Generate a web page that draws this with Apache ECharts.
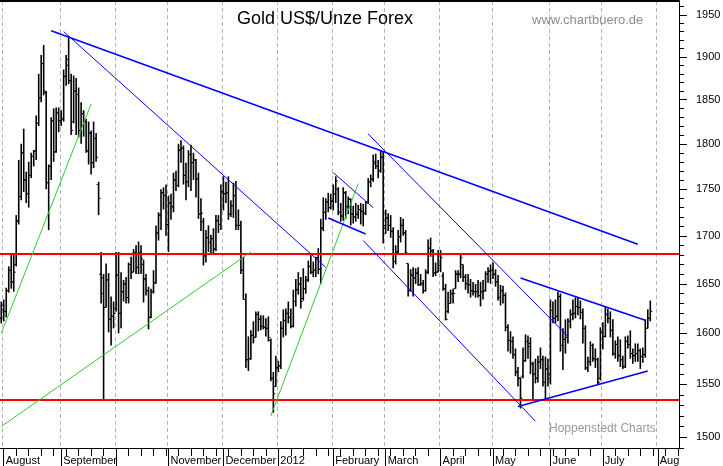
<!DOCTYPE html>
<html>
<head>
<meta charset="utf-8">
<title>Gold US$/Unze Forex</title>
<script src="https://cdn.jsdelivr.net/npm/echarts@6.0.0/dist/echarts.min.js"></script>
<style>
  html, body { margin: 0; padding: 0; background: #fff; }
  #chart { width: 723px; height: 466px; }
</style>
</head>
<body>
<div id="chart"></div>
<script>
// daily bars, [open, high, low, close], one array per month
const jul11 = [[1615, 1632, 1610, 1628]];
const aug11 = [
  [1624, 1634, 1612, 1622], [1622, 1646, 1616, 1643], [1643, 1668, 1641, 1664], [1664, 1682, 1645, 1652],
  [1652, 1681, 1642, 1662], [1670, 1722, 1668, 1715], [1716, 1782, 1712, 1742], [1742, 1800, 1738, 1790],
  [1790, 1817, 1747, 1760], [1760, 1769, 1735, 1745], [1745, 1780, 1730, 1765], [1765, 1790, 1762, 1786],
  [1786, 1793, 1775, 1792], [1792, 1832, 1782, 1823], [1823, 1880, 1820, 1852], [1852, 1902, 1847, 1892],
  [1892, 1914, 1855, 1860], [1858, 1860, 1750, 1757], [1757, 1777, 1706, 1775], [1775, 1830, 1760, 1826],
  [1826, 1840, 1780, 1791], [1791, 1841, 1790, 1835], [1835, 1841, 1813, 1826]
];
const sep11 = [
  [1826, 1838, 1820, 1828], [1828, 1885, 1825, 1877], [1877, 1902, 1866, 1897], [1890, 1924, 1868, 1872],
  [1872, 1880, 1810, 1815], [1825, 1878, 1823, 1860], [1860, 1875, 1810, 1856], [1856, 1864, 1807, 1815],
  [1815, 1847, 1800, 1834], [1834, 1838, 1808, 1825], [1825, 1828, 1790, 1792], [1792, 1825, 1777, 1812],
  [1812, 1815, 1766, 1779], [1779, 1825, 1773, 1806], [1806, 1812, 1780, 1785], [1755, 1758, 1722, 1740],
  [1660, 1683, 1630, 1656], [1640, 1660, 1535, 1626], [1626, 1671, 1626, 1654], [1654, 1661, 1601, 1614],
  [1614, 1637, 1588, 1617], [1617, 1632, 1605, 1620]
];
const oct11 = [
  [1625, 1683, 1622, 1659], [1659, 1683, 1600, 1620], [1620, 1662, 1605, 1642], [1642, 1654, 1632, 1650],
  [1650, 1657, 1630, 1636], [1636, 1672, 1630, 1670], [1670, 1678, 1655, 1662], [1662, 1686, 1662, 1682],
  [1682, 1690, 1660, 1667], [1667, 1694, 1660, 1682], [1682, 1690, 1660, 1676], [1670, 1675, 1631, 1655],
  [1655, 1660, 1638, 1643], [1643, 1647, 1604, 1616], [1616, 1645, 1615, 1642], [1642, 1664, 1640, 1651],
  [1651, 1711, 1650, 1703], [1703, 1725, 1695, 1722], [1722, 1750, 1706, 1746], [1746, 1752, 1728, 1743],
  [1743, 1755, 1700, 1712]
];
const nov11 = [
  [1712, 1743, 1683, 1735], [1735, 1745, 1717, 1731], [1731, 1768, 1725, 1760], [1760, 1770, 1748, 1754],
  [1754, 1800, 1752, 1793], [1793, 1804, 1779, 1795], [1795, 1798, 1755, 1765], [1765, 1779, 1738, 1758],
  [1758, 1793, 1752, 1788], [1788, 1799, 1748, 1779], [1779, 1790, 1760, 1782], [1782, 1783, 1741, 1761],
  [1761, 1768, 1718, 1723], [1723, 1740, 1705, 1724], [1715, 1719, 1669, 1679], [1679, 1706, 1672, 1698],
  [1698, 1711, 1683, 1693], [1693, 1701, 1682, 1697], [1697, 1708, 1680, 1686], [1686, 1722, 1684, 1716],
  [1716, 1722, 1703, 1712], [1712, 1755, 1706, 1747]
];
const dec11 = [
  [1747, 1764, 1727, 1745], [1745, 1758, 1735, 1746], [1746, 1764, 1717, 1723], [1723, 1738, 1720, 1732],
  [1732, 1757, 1719, 1743], [1743, 1759, 1706, 1711], [1711, 1728, 1706, 1711], [1711, 1716, 1660, 1664],
  [1664, 1678, 1634, 1634], [1634, 1640, 1566, 1574], [1574, 1597, 1563, 1575], [1575, 1603, 1574, 1598],
  [1598, 1612, 1590, 1596], [1596, 1622, 1596, 1619], [1619, 1622, 1602, 1614], [1614, 1618, 1603, 1607],
  [1607, 1618, 1604, 1606], [1606, 1615, 1597, 1605], [1605, 1617, 1592, 1596], [1593, 1595, 1553, 1556],
  [1556, 1562, 1523, 1541], [1548, 1578, 1548, 1566]
];
const jan12 = [
  [1566, 1573, 1562, 1568], [1568, 1612, 1565, 1605], [1605, 1624, 1596, 1613], [1613, 1625, 1598, 1620],
  [1620, 1632, 1610, 1616], [1616, 1625, 1605, 1607], [1607, 1644, 1606, 1632], [1632, 1655, 1627, 1644],
  [1644, 1662, 1639, 1650], [1650, 1657, 1625, 1632], [1635, 1666, 1633, 1645], [1645, 1658, 1640, 1654],
  [1654, 1674, 1652, 1668], [1668, 1681, 1660, 1662], [1662, 1673, 1657, 1664], [1664, 1678, 1657, 1677],
  [1677, 1687, 1660, 1665], [1665, 1718, 1650, 1708], [1708, 1741, 1705, 1725], [1725, 1740, 1717, 1736],
  [1736, 1746, 1725, 1730], [1730, 1745, 1728, 1737]
];
const feb12 = [
  [1737, 1755, 1727, 1745], [1745, 1764, 1735, 1759], [1750, 1752, 1722, 1725], [1725, 1735, 1715, 1721],
  [1721, 1752, 1716, 1746], [1746, 1748, 1718, 1731], [1731, 1742, 1723, 1739], [1739, 1740, 1711, 1723],
  [1723, 1732, 1713, 1720], [1720, 1735, 1715, 1723], [1723, 1733, 1718, 1728], [1728, 1735, 1712, 1726],
  [1726, 1734, 1710, 1724], [1724, 1737, 1722, 1736], [1736, 1762, 1734, 1758], [1758, 1766, 1752, 1761],
  [1761, 1788, 1758, 1778], [1780, 1789, 1772, 1775], [1775, 1782, 1762, 1770], [1770, 1793, 1768, 1785],
  [1785, 1791, 1692, 1711]
];
const mar12 = [
  [1708, 1728, 1702, 1719], [1719, 1724, 1705, 1711], [1711, 1722, 1698, 1705], [1705, 1709, 1666, 1673],
  [1673, 1690, 1670, 1683], [1683, 1706, 1680, 1699], [1699, 1720, 1693, 1711], [1711, 1718, 1700, 1703],
  [1703, 1706, 1680, 1682], [1671, 1671, 1637, 1643], [1643, 1665, 1642, 1659], [1659, 1667, 1637, 1656],
  [1656, 1666, 1650, 1661], [1661, 1667, 1648, 1649], [1649, 1660, 1648, 1650], [1650, 1654, 1640, 1643],
  [1643, 1665, 1642, 1662], [1662, 1696, 1660, 1687], [1687, 1698, 1678, 1684], [1684, 1686, 1657, 1661],
  [1661, 1672, 1658, 1662], [1662, 1685, 1662, 1669]
];
const apr12 = [
  [1669, 1685, 1662, 1677], [1658, 1662, 1643, 1645], [1645, 1650, 1613, 1614], [1622, 1642, 1620, 1630],
  [1630, 1644, 1630, 1640], [1640, 1645, 1630, 1640], [1645, 1664, 1645, 1660], [1660, 1664, 1652, 1660],
  [1660, 1680, 1656, 1677], [1670, 1670, 1652, 1657], [1657, 1660, 1644, 1650], [1650, 1660, 1640, 1649],
  [1649, 1655, 1636, 1643], [1643, 1652, 1638, 1642], [1642, 1650, 1636, 1642], [1642, 1654, 1636, 1638],
  [1638, 1652, 1627, 1642], [1642, 1654, 1634, 1643], [1643, 1663, 1642, 1660], [1660, 1667, 1651, 1663],
  [1663, 1670, 1650, 1664]
];
const may12 = [
  [1664, 1672, 1655, 1660], [1660, 1665, 1647, 1652], [1652, 1659, 1633, 1636], [1636, 1649, 1628, 1643],
  [1643, 1648, 1630, 1638], [1638, 1641, 1602, 1606], [1606, 1609, 1582, 1593], [1593, 1602, 1580, 1592],
  [1592, 1597, 1575, 1579], [1579, 1585, 1558, 1562], [1562, 1567, 1548, 1556], [1556, 1557, 1527, 1537],
  [1558, 1586, 1556, 1573], [1573, 1599, 1572, 1592], [1592, 1598, 1575, 1587], [1590, 1596, 1560, 1570],
  [1570, 1572, 1535, 1560], [1560, 1575, 1551, 1556], [1556, 1578, 1552, 1572], [1572, 1586, 1565, 1574],
  [1574, 1578, 1548, 1552], [1552, 1577, 1534, 1565], [1565, 1575, 1548, 1560]
];
const jun12 = [
  [1556, 1634, 1550, 1623], [1623, 1632, 1610, 1615], [1615, 1634, 1610, 1617], [1617, 1642, 1612, 1637],
  [1637, 1640, 1582, 1588], [1588, 1605, 1564, 1594], [1594, 1614, 1580, 1596], [1596, 1615, 1590, 1612],
  [1612, 1624, 1605, 1619], [1619, 1634, 1613, 1620], [1620, 1636, 1615, 1627], [1627, 1636, 1618, 1626],
  [1626, 1633, 1614, 1621], [1621, 1625, 1590, 1605], [1605, 1608, 1564, 1566], [1566, 1577, 1562, 1572],
  [1572, 1592, 1568, 1588], [1588, 1590, 1572, 1575], [1575, 1585, 1566, 1574], [1574, 1576, 1550, 1552],
  [1556, 1606, 1554, 1601]
];
const jul12 = [
  [1601, 1611, 1584, 1597], [1597, 1627, 1596, 1619], [1619, 1625, 1610, 1615], [1615, 1622, 1596, 1603],
  [1603, 1614, 1578, 1580], [1580, 1593, 1575, 1589], [1589, 1597, 1572, 1578], [1578, 1594, 1567, 1574],
  [1574, 1578, 1565, 1567], [1567, 1597, 1566, 1592], [1592, 1598, 1585, 1589], [1589, 1603, 1575, 1580],
  [1580, 1585, 1570, 1578], [1578, 1590, 1572, 1580], [1580, 1590, 1572, 1583], [1583, 1585, 1565, 1577],
  [1577, 1586, 1571, 1579], [1579, 1614, 1576, 1605], [1605, 1624, 1605, 1615], [1615, 1633, 1612, 1622]
];

// axis
const firstDay = '2011-07-29';
const lastDay = '2012-08-13';
const monthStarts = ['2011-08-01', '2011-09-01', '2011-10-03', '2011-11-01', '2011-12-01', '2012-01-02',
  '2012-02-01', '2012-03-01', '2012-04-02', '2012-05-01', '2012-06-01', '2012-07-02', '2012-08-01'];
const monthLabels = ['August', 'September', '', 'November', 'December', '2012',
  'February', 'March', 'April', 'May', 'June', 'July', 'Aug'];
const priceTicks = [1500, 1550, 1600, 1650, 1700, 1750, 1800, 1850, 1900, 1950];
const priceMin = 1490;
const priceMax = 1967;

// drawn lines: [[date, price], [date, price]]
const redLevels = [1681, 1535];
const blueWide = [
  [['2011-08-26', 1931], ['2012-07-20', 1691]],
  [['2012-01-30', 1719], ['2012-02-20', 1702]],
  [['2012-05-16', 1656], ['2012-07-25', 1613]],
  [['2012-05-15', 1529], ['2012-07-26', 1563]]
];
const blueThin = [
  [['2011-09-02', 1930], ['2012-01-27', 1667]],
  [['2012-02-21', 1811], ['2012-06-12', 1597]],
  [['2012-02-17', 1695], ['2012-05-24', 1515]],
  [['2012-02-01', 1768], ['2012-02-23', 1730]]
];
const greenLines = [
  [['2011-07-29', 1600], ['2011-09-19', 1845]],
  [['2011-07-29', 1510], ['2011-12-16', 1683]],
  [['2011-12-28', 1520], ['2012-02-15', 1756]]
];

const FONT = 'Liberation Sans, Arial, sans-serif';

// weekday categories
let dates = [];
for (let d = new Date(firstDay + 'T00:00:00Z'); d.toISOString().slice(0, 10) <= lastDay; d.setUTCDate(d.getUTCDate() + 1)) {
  let wd = d.getUTCDay();
  if (wd != 0 && wd != 6) dates.push(d.toISOString().slice(0, 10));
}

let bars = [];
[jul11, aug11, sep11, oct11, nov11, dec11, jan12, feb12, mar12, apr12, may12, jun12, jul12].forEach(function(m) {
  m.forEach(function(b) {
    bars.push([bars.length, Math.log(b[0]), Math.log(b[1]), Math.log(b[2]), Math.log(b[3])]);
  });
});

function isMonthStart(idx, value) {
  return monthStarts.indexOf(value) >= 0;
}
function isMonday(idx, value) {
  return new Date(value + 'T00:00:00Z').getUTCDay() == 1;
}

function renderBar(params, api) {
  let i = api.value(0);
  let o = api.coord([i, api.value(1)]);
  let h = api.coord([i, api.value(2)]);
  let l = api.coord([i, api.value(3)]);
  let c = api.coord([i, api.value(4)]);
  let x = h[0];
  return {
    type: 'group',
    children: [
      { type: 'line', shape: { x1: x, y1: h[1], x2: x, y2: l[1] }, style: { stroke: '#000', lineWidth: 1.6 } },
      { type: 'line', shape: { x1: x - 2, y1: o[1], x2: x, y2: o[1] }, style: { stroke: '#000', lineWidth: 1 } },
      { type: 'line', shape: { x1: x, y1: c[1], x2: x + 2, y2: c[1] }, style: { stroke: '#000', lineWidth: 1 } }
    ]
  };
}

function trendSeries(lines, color, width) {
  return lines.map(function(seg) {
    return {
      type: 'line',
      data: seg.map(p => [p[0], Math.log(p[1])]),
      showSymbol: false,
      symbol: 'none',
      silent: true,
      z: 5,
      lineStyle: { color: color, width: width }
    };
  });
}

let series = [{
  type: 'custom',
  renderItem: renderBar,
  data: bars,
  dimensions: ['idx', 'open', 'high', 'low', 'close'],
  encode: { x: 0, y: [1, 2, 3, 4] },
  clip: true,
  silent: true,
  z: 2
}];
let green = trendSeries(greenLines, '#2ecc2e', 1);
green[0].markLine = {
  silent: true,
  precision: 10,
  symbol: ['none', 'none'],
  label: { show: false },
  lineStyle: { color: '#ff0000', width: 2, type: 'solid' },
  data: redLevels.map(v => ({ yAxis: Math.log(v) }))
};
series = series.concat(green, trendSeries(blueThin, '#0000ff', 1), trendSeries(blueWide, '#0000ff', 1.6));

let dom = document.getElementById('chart');
let myChart = echarts.init(dom, null, { renderer: 'canvas' });

let option = {
  animation: false,
  backgroundColor: '#fff',
  title: [
    {
      text: 'Gold US$/Unze Forex', left: 237, top: 10, padding: 0,
      textStyle: { fontFamily: FONT, fontSize: 18, fontWeight: 'normal', color: '#000' }
    },
    {
      text: 'www.chartbuero.de', left: 532, top: 14, padding: 0,
      textStyle: { fontFamily: FONT, fontSize: 13, fontWeight: 'normal', color: '#8c8c8c' }
    },
    {
      text: 'Hoppenstedt Charts', left: 549, top: 423, padding: 0,
      textStyle: { fontFamily: FONT, fontSize: 12, fontWeight: 'normal', color: '#999' }
    }
  ],
  grid: { left: 0, right: 44, top: 1, bottom: 18, containLabel: false, outerBoundsMode: 'none' },
  xAxis: [
    {
      type: 'category',
      data: dates,
      position: 'bottom',
      boundaryGap: true,
      axisLine: { show: true, onZero: false, lineStyle: { color: '#000', width: 1 } },
      axisTick: { show: true, alignWithLabel: true, interval: isMonthStart, length: 18, lineStyle: { color: '#000' } },
      axisLabel: {
        show: true, interval: isMonthStart, align: 'left', margin: 7, padding: [0, 0, 0, 2],
        fontFamily: FONT, fontSize: 11, color: '#000',
        formatter: function(v) { return monthLabels[monthStarts.indexOf(v)]; }
      },
      splitLine: { show: true, interval: isMonthStart, lineStyle: { color: '#b4b4b4', type: [4, 3], width: 1 } }
    },
    {
      type: 'category',
      data: dates,
      position: 'bottom',
      boundaryGap: true,
      axisLine: { show: false },
      axisTick: { show: true, alignWithLabel: true, interval: isMonday, length: 8, lineStyle: { color: '#000' } },
      axisLabel: { show: false },
      splitLine: { show: false }
    },
    {
      type: 'category',
      data: dates,
      position: 'top',
      axisLine: { show: true, onZero: false, lineStyle: { color: '#000', width: 2 } },
      axisTick: { show: false },
      axisLabel: { show: false },
      splitLine: { show: false }
    }
  ],
  yAxis: [
    {
      type: 'value',
      position: 'right',
      min: Math.log(priceMin),
      max: Math.log(priceMax),
      axisLine: { show: true, lineStyle: { color: '#000', width: 1 } },
      axisTick: { show: true, customValues: priceTicks.map(Math.log), length: 8, lineStyle: { color: '#000' } },
      axisLabel: {
        customValues: priceTicks.map(Math.log), margin: 17,
        fontFamily: FONT, fontSize: 11, color: '#000',
        formatter: function(v) { return String(Math.round(Math.exp(v))); }
      },
      splitLine: { show: false }
    },
    {
      type: 'value',
      position: 'right',
      min: Math.log(priceMin),
      max: Math.log(priceMax),
      axisLine: { show: false },
      axisTick: {
        show: true, length: 5, lineStyle: { color: '#000' },
        customValues: (function() {
          let v = [];
          for (let p = 1490; p <= 1960; p += 10) v.push(Math.log(p));
          return v;
        })()
      },
      axisLabel: { show: false },
      splitLine: { show: false }
    }
  ],
  series: series
};

if (option && typeof option === 'object') {
  myChart.setOption(option);
}
</script>
</body>
</html>
